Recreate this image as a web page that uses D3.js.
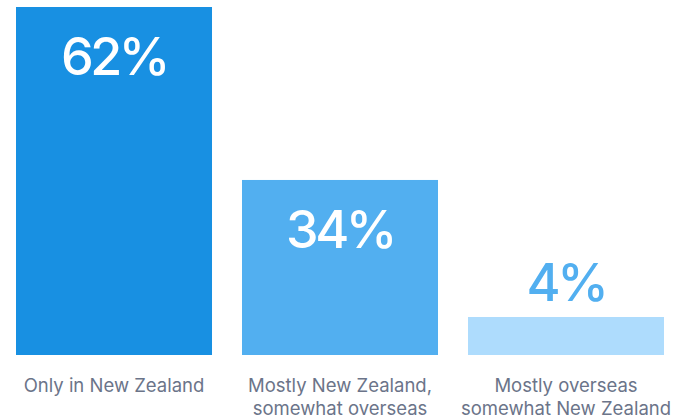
<!DOCTYPE html>
<html>
<head>
<meta charset="utf-8">
<script src="https://cdn.jsdelivr.net/npm/d3@7/dist/d3.min.js"></script>
<style>
  html, body { margin: 0; padding: 0; background: #ffffff; }
  svg { display: block; }
</style>
</head>
<body>
<svg id="chart" width="677" height="420"></svg>
<script>
// Where the work is done: share of respondents
const categories = [
  ["Only in New Zealand"],
  ["Mostly New Zealand,", "somewhat overseas"],
  ["Mostly overseas", "somewhat New Zealand"]
];
const values = [62, 34, 4];
const valueLabels = ["62%", "34%", "4%"];
const barColors = ["#1890e2", "#52aff0", "#aedcfd"];

const baseline = 355;      // bottom edge of the bars
const minBarHeight = 38;   // keep very small bars visible

const svg = d3.select("#chart");

const x = d3.scaleBand()
  .domain(d3.range(values.length))
  .range([16, 664])
  .paddingInner(0.1327)
  .paddingOuter(0);

const y = d3.scaleLinear()
  .domain([0, 62])
  .range([390, 7]);

const barTop = v => Math.min(y(v), baseline - minBarHeight);

const g = svg.append("g");

g.selectAll("rect.bar")
  .data(values)
  .join("rect")
  .attr("class", "bar")
  .attr("x", (d, i) => x(i))
  .attr("y", d => barTop(d))
  .attr("width", x.bandwidth())
  .attr("height", d => baseline - barTop(d))
  .attr("fill", (d, i) => barColors[i]);

// Value labels: inside the bar when it is tall enough, above it otherwise
g.selectAll("text.value")
  .data(values)
  .join("text")
  .attr("class", "value")
  .attr("x", (d, i) => x(i) + x.bandwidth() / 2)
  .attr("y", d => {
    const h = baseline - barTop(d);
    return h > 100 ? barTop(d) + 68 : barTop(d) - 16;
  })
  .attr("text-anchor", "middle")
  .attr("font-family", "Inter, 'Noto Sans', sans-serif")
  .attr("font-weight", 500)
  .attr("font-size", 52)
  .attr("letter-spacing", -3.5)
  .attr("fill", d => (baseline - barTop(d) > 100 ? "#ffffff" : barColors[1]))
  .text((d, i) => valueLabels[i]);

// Category labels under each bar
const cat = g.selectAll("text.cat")
  .data(categories)
  .join("text")
  .attr("class", "cat")
  .attr("text-anchor", "middle")
  .attr("font-family", "Inter, 'Noto Sans', sans-serif")
  .attr("font-size", 18.5)
  .attr("fill", "#6b7489");

cat.selectAll("tspan")
  .data((d, i) => d.map(line => ({ line, i })))
  .join("tspan")
  .attr("x", d => x(d.i) + x.bandwidth() / 2)
  .attr("y", (d, j) => 392 + j * 23)
  .text(d => d.line);
</script>
</body>
</html>
